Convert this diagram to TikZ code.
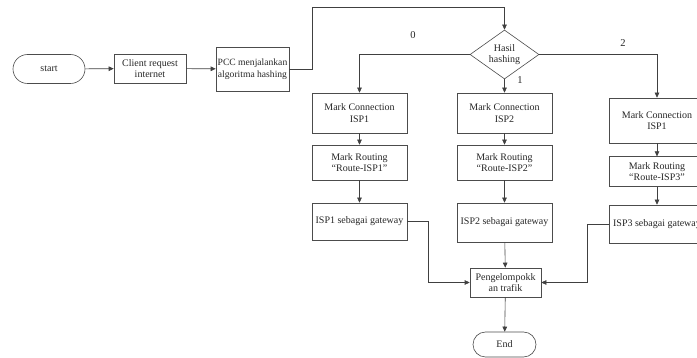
\documentclass[tikz,border=0pt]{standalone}
\usepackage{fontspec}
\setmainfont{Liberation Serif}
\usetikzlibrary{shapes.geometric,shapes.misc,arrows.meta}
\begin{document}
\begin{tikzpicture}[x=1pt,y=-1pt,
  every node/.style={font=\fontsize{10}{11.5}\selectfont, text=black!85},
  box/.style={draw=black!70, line width=0.6pt, align=center, inner sep=1pt,
              minimum width=95, minimum height=#1},
  box/.default=40,
  term/.style={rounded rectangle, draw=black!70, line width=0.6pt,
               minimum width=#1, inner sep=1pt},
  decide/.style={diamond, draw=black!70, line width=0.6pt, align=center,
                 inner sep=0pt, aspect=1.4, minimum width=69, minimum height=49},
  flow/.style={draw=black!75, line width=0.6pt,
               -{Triangle[length=5pt,width=4.5pt]}},
  lbl/.style={font=\fontsize{10.5}{12}\selectfont}]
\clip (0,0) rectangle (697,358);

% start and the two preparation steps
\node[term=74, minimum height=29] (start) at (49,69) {start};
\node[box=29, minimum width=72] (client) at (150,68.5) {Client request\\internet};
\node[box=44, minimum width=73, inner sep=0pt, font=\fontsize{9.6}{11.5}\selectfont]
  (pcc) at (252.5,69) {PCC menjalankan\\algoritma hashing};

% decision on the hash result
\node[decide] (hash) at (504.5,54.5) {Hasil\\hashing};
\coordinate (top) at (312,7);

% three branches
\node[box=40] (mc1) at (359.5,113) {Mark Connection\\ISP1};
\node[box=40] (mc2) at (504.5,113) {Mark Connection\\ISP2};
\node[box=45] (mc3) at (657,120.5) {Mark Connection\\ISP1};

\node[box=35] (mr1) at (359.5,162.5) {Mark Routing\\``Route-ISP1''};
\node[box=35] (mr2) at (504.5,162.5) {Mark Routing\\``Route-ISP2''};
\node[box=30] (mr3) at (657,171.7) {Mark Routing\\``Route-ISP3''};

\node[box=37] (gw1) at (359.5,221.5) {ISP1 sebagai gateway};
\node[box=39] (gw2) at (504.5,222.5) {ISP2 sebagai gateway};
\node[box=38] (gw3) at (657,224) {ISP3 sebagai gateway};

% merge and end
\node[box=29, minimum width=71] (group) at (505.5,282.5) {Pengelompokk\\an trafik};
\node[term=65, minimum height=25] (end) at (504.5,344.5) {End};
\coordinate (j1) at (428,250);
\coordinate (j3) at (587,250);

% branch labels
\node[lbl] (l0) at (413,35) {0};
\node[lbl] (l1) at (520,80) {1};
\node[lbl] (l2) at (623,43) {2};

% connectors
\draw[flow] (start) -- (client);
\draw[flow] (client) -- (pcc);
\draw[flow] (pcc.east) -| (top) -| (hash.north);
\draw[flow] (hash.west) -| (mc1.north);
\draw[flow] (hash.south) -- (mc2.north);
\draw[flow] (hash.east) -| (mc3.north);
\draw[flow] (mc1) -- (mr1);
\draw[flow] (mc2) -- (mr2);
\draw[flow] (mc3) -- (mr3);
\draw[flow] (mr1) -- (gw1);
\draw[flow] (mr2) -- (gw2);
\draw[flow] (mr3) -- (gw3);
\draw[flow] (gw1.east) -- (gw1.east -| j1) |- (group.west);
\draw[flow] (gw3.west) -- (gw3.west -| j3) |- (group.east);
\draw[flow] (gw2) -- (group);
\draw[flow] (group) -- (end);
\end{tikzpicture}
\end{document}
